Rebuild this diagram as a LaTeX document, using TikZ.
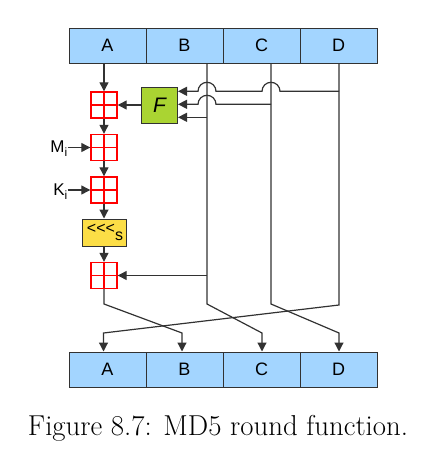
\documentclass[tikz,border=0pt]{standalone}
\usepackage{fontspec}
\newfontfamily\dfont{Liberation Sans}
\usetikzlibrary{arrows.meta,calc}
\definecolor{barblue}{RGB}{163,213,255}
\definecolor{fgreen}{RGB}{170,212,50}
\definecolor{ryellow}{RGB}{252,222,70}
\definecolor{wirecol}{RGB}{50,50,50}
\begin{document}
\begin{tikzpicture}[x=1pt,y=-1pt,
 cell/.style={draw=wirecol,line width=1pt,fill=barblue,minimum width=77pt,minimum height=35pt,inner sep=0pt,font=\dfont\fontsize{18}{18}\selectfont},
 adder/.style={draw=red,line width=1.4pt,minimum size=26pt,inner sep=0pt,
   path picture={\draw[red,line width=1.6pt] (path picture bounding box.north)--(path picture bounding box.south) (path picture bounding box.west)--(path picture bounding box.east);}},
 fbox/.style={draw=wirecol,line width=1pt,fill=fgreen,minimum size=36pt,inner sep=0pt,font=\dfont\itshape\fontsize{21}{21}\selectfont},
 rotbox/.style={draw=wirecol,line width=1pt,fill=ryellow,minimum width=44pt,minimum height=27pt,inner sep=0pt,font=\dfont\fontsize{16}{16}\selectfont},
 lbl/.style={inner sep=0pt,font=\dfont\fontsize{17}{17}\selectfont},
 wire/.style={draw=wirecol,line width=1.2pt},
 arr/.style={wire,-{Triangle[length=9pt,width=9pt]}},
]
\useasboundingbox (0,0) rectangle (426,458);
% top bar
\node[cell] (tA) at (107.5,45.5) {A};
\node[cell] (tB) at (184.5,45.5) {B};
\node[cell] (tC) at (261.5,45.5) {C};
\node[cell] (tD) at (338.5,45.5) {D};
% bottom bar
\node[cell] (bA) at (107.5,369.5) {A};
\node[cell] (bB) at (184.5,369.5) {B};
\node[cell] (bC) at (261.5,369.5) {C};
\node[cell] (bD) at (338.5,369.5) {D};
% operation column
\node[adder] (add1) at (104,105) {};
\node[adder] (add2) at (104,147.5) {};
\node[adder] (add3) at (104,190) {};
\node[rotbox] (rot) at (104,232.5) {\hspace*{2pt}\raisebox{1pt}{<<<}\raisebox{-6pt}{s}};
\node[adder] (add4) at (104,275.5) {};
\node[fbox] (F) at (159.5,105) {F};
% labels
\node[lbl,anchor=base east] (mi) at (67.5,152) {M\raisebox{-4pt}{\fontsize{12}{12}\selectfont i}};
\node[lbl,anchor=base east] (ki) at (67.5,195) {K\raisebox{-4pt}{\fontsize{12}{12}\selectfont i}};
% coordinates
\coordinate (a1) at (104,304);  \coordinate (a2) at (182,333);
\coordinate (b1) at (207,304);  \coordinate (b2) at (262,333);
\coordinate (c1) at (271,304);  \coordinate (c2) at (339,333);
\coordinate (d1) at (339,305);  \coordinate (d2) at (103.5,333);
\coordinate (fB) at (207,117.3);
\coordinate (fC) at (271,104.3);
\coordinate (fD) at (339,91.3);
\coordinate (gB) at (207,275.5);
% main chain
\draw[arr] (tA.south -| add1) -- (add1);
\draw[arr] (F.west |- add1) -- (add1.east);
\draw[arr] (add1) -- (add2);
\draw[arr] (mi.east |- add2) -- (add2);
\draw[arr] (add2) -- (add3);
\draw[arr] (ki.east |- add3) -- (add3);
\draw[arr] (add3) -- (rot);
\draw[arr] (rot) -- (add4);
\draw[arr] (add4) -- (a1) -- (a2) -- (bB.north -| a2);
% B, C, D lines
\draw[arr] (tB.south -| b1) -- (b1) -- (b2) -- (bC.north -| b2);
\draw[arr] (tC.south -| c1) -- (c1) -- (c2) -- (bD.north -| c2);
\draw[arr] (tD.south -| d1) -- (d1) -- (d2) -- (bA.north -| d2);
% branches into F
\draw[arr] (fB) -- (fB -| F.east);
\draw[arr] (fC) -- ($(fC -| b1)+(9,0)$) arc[start angle=0,end angle=-180,radius=9] -- (fC -| F.east);
\draw[arr] (fD) -- ($(fD -| c1)+(9,0)$) arc[start angle=0,end angle=-180,radius=9]
  -- ($(fD -| b1)+(9,0)$) arc[start angle=0,end angle=-180,radius=9] -- (fD -| F.east);
\draw[arr] (gB) -- (add4);
% caption
\node[inner sep=0pt,font=\fontsize{28.8}{33}\selectfont] (cap) at (218,428) {Figure 8.7: MD5 round function.};
\end{tikzpicture}
\end{document}
